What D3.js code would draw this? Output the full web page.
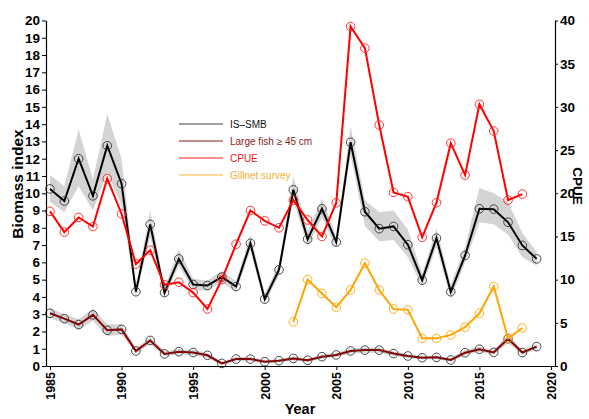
<!DOCTYPE html>
<html>
<meta charset='utf-8'>
<head>
<script src='https://d3js.org/d3.v7.min.js'></script>
<style>
body { margin: 0; background: #fff; }
text { font-family: 'Liberation Sans', Arial, sans-serif; }
.tick text { font-weight: bold; font-size: 13.5px; fill: #000; }
.xaxis .tick text { font-size: 12.5px; }
</style>
</head>
<body>
<div id='chart'></div>
<script>
// years 1985-2019
var years = d3.range(1985, 2020)

var smb = [10.25, 9.55, 12.0, 9.85, 12.75, 10.55, 4.3, 8.2, 4.25, 6.2,
           4.72, 4.66, 5.15, 4.6, 7.1, 3.87, 5.57, 10.2, 7.34, 9.1,
           7.17, 12.95, 8.93, 7.95, 8.08, 7.02, 4.97, 7.4, 4.3, 6.4,
           9.1, 9.08, 8.32, 6.98, 6.2]
var smbLo = [9.5, 8.9, 10.4, 9.0, 11.2, 9.3, 4.0, 7.5, 3.95, 5.8,
             4.4, 4.35, 4.85, 4.3, 6.7, 3.6, 5.25, 9.6, 6.9, 8.6,
             6.85, 12.2, 8.1, 7.2, 7.3, 6.3, 4.6, 6.9, 3.9, 6.0,
             8.3, 8.2, 7.6, 6.3, 5.8]
var smbHi = [11.05, 10.4, 13.7, 10.8, 14.6, 12.0, 4.6, 9.0, 4.55, 6.75,
             5.05, 4.95, 5.5, 4.9, 7.6, 4.2, 5.9, 11.0, 7.8, 9.7,
             7.5, 13.9, 9.6, 8.9, 9.0, 7.9, 5.35, 7.95, 4.7, 6.9,
             10.3, 10.0, 9.5, 7.7, 6.6]

var large = [3.05, 2.74, 2.4, 2.96, 2.07, 2.12, 0.87, 1.48, 0.7, 0.83,
             0.78, 0.62, 0.15, 0.4, 0.4, 0.25, 0.31, 0.44, 0.33, 0.54,
             0.64, 0.87, 0.92, 0.92, 0.72, 0.58, 0.48, 0.5, 0.35, 0.77,
             0.97, 0.79, 1.58, 0.78, 1.12]
var largeLo = [2.75, 2.49, 2.1, 2.61, 1.72, 1.82, 0.72, 1.28, 0.55, 0.68,
               0.63, 0.47, 0.05, 0.28, 0.28, 0.15, 0.21, 0.32, 0.23, 0.42,
               0.52, 0.72, 0.77, 0.77, 0.6, 0.46, 0.38, 0.4, 0.25, 0.62,
               0.82, 0.64, 1.33, 0.63, 0.97]
var largeHi = [3.35, 2.99, 2.7, 3.31, 2.42, 2.42, 1.02, 1.68, 0.85, 0.98,
               0.93, 0.77, 0.25, 0.52, 0.52, 0.35, 0.41, 0.56, 0.43, 0.66,
               0.76, 1.02, 1.07, 1.07, 0.84, 0.7, 0.58, 0.6, 0.45, 0.92,
               1.12, 0.94, 1.83, 0.93, 1.27]

// CPUE 1985-2018 (right axis)
var cpueYears = d3.range(1985, 2019)
var cpue = [17.9, 15.5, 17.2, 16.15, 21.7, 17.6, 11.8, 13.4, 9.4, 9.7,
            8.5, 6.6, 10.0, 14.1, 18.0, 16.8, 16.0, 19.2, 16.9, 15.0,
            18.9, 39.3, 36.8, 27.9, 20.1, 19.6, 14.9, 18.9, 25.8, 22.1,
            30.3, 27.2, 19.2, 19.9]

// gillnet survey 2002-2018 (right axis)
var gillYears = d3.range(2002, 2019)
var gill = [5.1, 10.0, 8.4, 6.8, 8.8, 11.9, 8.8, 6.6, 6.5, 3.2,
            3.2, 3.6, 4.5, 6.1, 9.2, 3.2, 4.4]

var legendNames = ['IS\u2013SMB', 'Large fish \u2265 45 cm', 'CPUE', 'Gillnet survey']
var legendColors = ['#444', '#8b1a1a', '#ff1a1a', '#f5b335']
var legendText = ['#111', '#8b1a1a', '#e8141c', '#f0b030']

var W = 589, H = 419

var svg = d3.select('#chart').append('svg')
    .attr('width', W).attr('height', H)

var x = d3.scaleLinear().domain([1984.72, 2020.28]).range([46, 555])
var yL = d3.scaleLinear().domain([0, 20]).range([366, 20.5])
var yR = d3.scaleLinear().domain([0, 40]).range([366, 20.5])

// bands
function band(lo, hi) {
    return d3.area()
        .x((d, i) => x(years[i]))
        .y0((d, i) => yL(lo[i]))
        .y1((d, i) => yL(hi[i]))(years)
}
svg.append('path').attr('d', band(smbLo, smbHi)).attr('fill', '#d4d4d4')
svg.append('path').attr('d', band(largeLo, largeHi)).attr('fill', '#d4d4d4')

function series(xs, vals, yScale, lineCol, ptCol) {
    var pts = xs.map((yr, i) => [x(yr), yScale(vals[i])])
    svg.append('path')
        .attr('d', d3.line()(pts))
        .attr('fill', 'none')
        .attr('stroke', lineCol)
        .attr('stroke-width', 2)
    svg.selectAll(null).data(pts).enter().append('circle')
        .attr('cx', d => d[0]).attr('cy', d => d[1])
        .attr('r', 4.3)
        .attr('fill', 'none')
        .attr('stroke', ptCol)
        .attr('stroke-width', 0.9)
}

series(years, smb, yL, '#000', '#333')
series(years, large, yL, '#8b0000', '#333')
series(cpueYears, cpue, yR, '#ff0000', '#ff2020')
series(gillYears, gill, yR, '#ffa500', '#ffa500')

// axes
var xAxis = svg.append('g')
    .attr('class', 'xaxis')
    .attr('transform', 'translate(0,366)')
    .call(d3.axisBottom(x).tickValues(d3.range(1985, 2021, 5)).tickFormat(d3.format('d')).tickSize(4).tickSizeOuter(0))
xAxis.selectAll('.tick text')
    .attr('transform', 'rotate(-90)')
    .attr('text-anchor', 'end')
    .attr('x', -6).attr('y', 0).attr('dy', '0.35em')

svg.append('g')
    .attr('transform', 'translate(46,0)')
    .call(d3.axisLeft(yL).ticks(20).tickSize(4).tickPadding(2).tickSizeOuter(0))

svg.append('g')
    .attr('transform', 'translate(555,0)')
    .call(d3.axisRight(yR).tickValues(d3.range(0, 41, 5)).tickSize(3).tickPadding(2).tickSizeOuter(0))

svg.selectAll('.domain').attr('stroke', '#000').attr('stroke-width', 1.2)
svg.selectAll('.tick line').attr('stroke', '#000')

// axis titles
svg.append('text')
    .attr('transform', 'translate(23,184) rotate(-90)')
    .attr('text-anchor', 'middle')
    .style('font-weight', 'bold').style('font-size', '15.5px')
    .text('Biomass index')

svg.append('text')
    .attr('transform', 'translate(573,186) rotate(90)')
    .attr('text-anchor', 'middle')
    .style('font-weight', 'bold').style('font-size', '13.5px')
    .text('CPUE')

svg.append('text')
    .attr('x', 300).attr('y', 414)
    .attr('text-anchor', 'middle')
    .style('font-weight', 'bold').style('font-size', '14.5px')
    .text('Year')

// legend
var leg = svg.selectAll('.legend').data(legendNames).enter().append('g')
    .attr('class', 'legend')
    .attr('transform', (d, i) => 'translate(0,' + (124 + i * 17) + ')')
leg.append('line')
    .attr('x1', 179).attr('x2', 223)
    .attr('stroke', (d, i) => legendColors[i]).attr('stroke-width', 1.2)
leg.append('text')
    .attr('x', 230).attr('dy', '0.35em')
    .style('font-size', '10px')
    .attr('fill', (d, i) => legendText[i])
    .text(d => d)
</script>
</body>
</html>
